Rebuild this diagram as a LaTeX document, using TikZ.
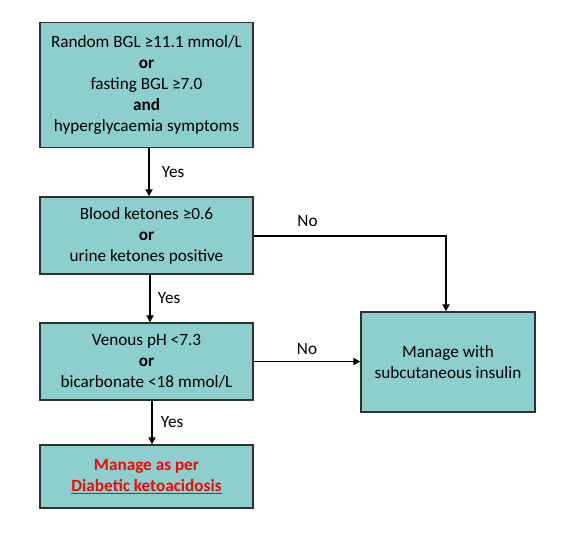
\documentclass[tikz,border=0pt]{standalone}
\usepackage{fontspec}
\setmainfont{Carlito}
\usetikzlibrary{arrows.meta,positioning}
\definecolor{boxfill}{HTML}{8DCFCE}
\definecolor{boxline}{HTML}{303030}
\tikzset{
  box/.style={draw=boxline, line width=1.4pt, fill=boxfill, align=center, inner sep=0pt, font=\fontsize{17.2}{21}\selectfont},
  conn/.style={line width=1.8pt, -{Triangle[length=7pt,width=7pt]}},
  lbl/.style={font=\fontsize{17.2}{19}\selectfont, inner sep=0pt}
}
\begin{document}
\begin{tikzpicture}[x=1pt,y=-1pt]
\useasboundingbox (0,0) rectangle (568,533);
\node[box, minimum width=213pt, minimum height=125pt] (b1) at (146.5,85) {Random BGL ≥11.1 mmol/L\\\textbf{or}\\fasting BGL ≥7.0\\\textbf{and}\\hyperglycaemia symptoms};
\node[box, minimum width=213pt, minimum height=77pt] (b2) at (146.5,235.5) {Blood ketones ≥0.6\\\textbf{or}\\urine ketones positive};
\node[box, minimum width=213pt, minimum height=77pt] (b3) at (146.5,361.5) {Venous pH <7.3\\\textbf{or}\\bicarbonate <18 mmol/L};
\node[box, minimum width=213pt, minimum height=63pt] (b4) at (146.5,476.5) {\textcolor{red}{\textbf{Manage as per}}\\\textcolor{red}{\textbf{\underline{Diabetic ketoacidosis}}}};
\node[box, minimum width=174pt, minimum height=100pt] (b5) at (448,362) {Manage with\\subcutaneous insulin};
\coordinate (c1) at (149,148);
\coordinate (c2) at (446,236);
\draw[conn] (b1.south -| c1) -- (b2.north -| c1) node[lbl, midway, right=12pt] {Yes};
\draw[conn] (b2.east |- c2) -| (b5.north -| c2) node[lbl, pos=0.14, above=8pt] {No};
\coordinate (c3) at (150,274);
\draw[conn] (b2.south -| c3) -- (b3.north -| c3) node[lbl, midway, right=7pt] {Yes};
\draw[conn] (b3.east) -- (b5.west |- b3.east) node[lbl, midway, above=6pt] {No};
\coordinate (c4) at (152,400);
\draw[conn] (b3.south -| c4) -- (b4.north -| c4) node[lbl, midway, right=8pt] {Yes};
\end{tikzpicture}
\end{document}
